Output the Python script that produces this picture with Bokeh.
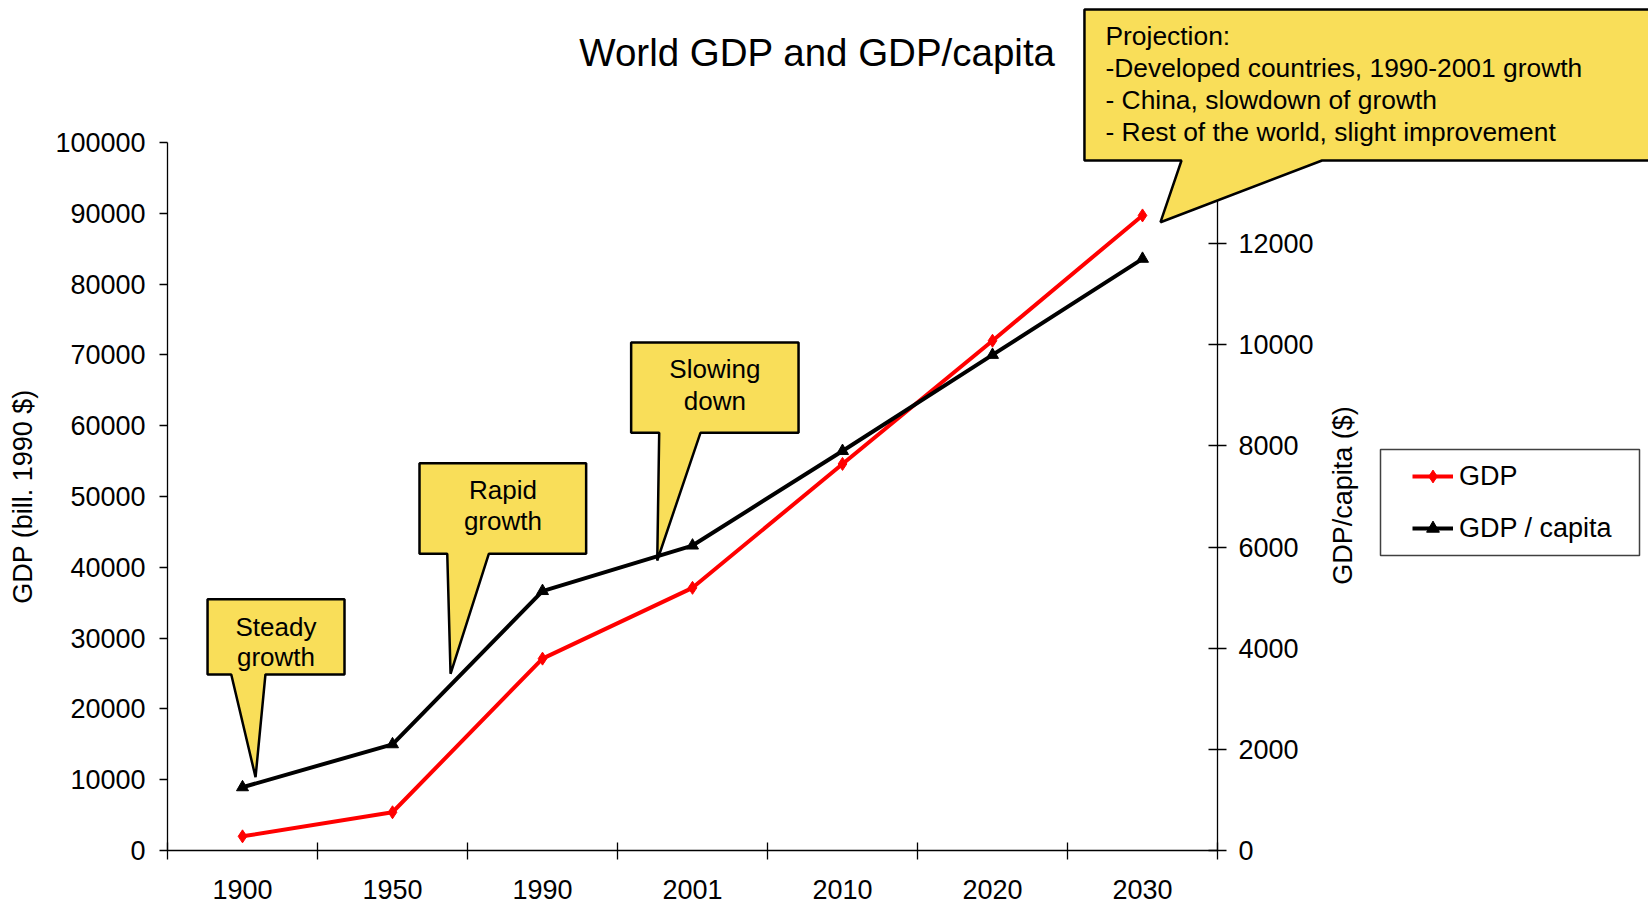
import math

from bokeh.plotting import figure
from bokeh.models import (Range1d, LinearAxis, FixedTicker, BasicTickFormatter,
                          Legend, LegendItem, Label, PolyAnnotation, BoxAnnotation)
from bokeh.embed import file_html
from bokeh.resources import INLINE

# ---- data -------------------------------------------------------------
years = ["1900", "1950", "1990", "2001", "2010", "2020", "2030"]
gdp = [2000, 5400, 27100, 37100, 54600, 72000, 89700]            # bill. 1990 $
gdp_per_capita = [1250, 2100, 5130, 6030, 7900, 9800, 11700]     # 1990 $
gdp_ticks = list(range(0, 100001, 10000))
capita_ticks = list(range(0, 14001, 2000))

# ---- styling ----------------------------------------------------------
FONT = "Liberation Sans"
AXIS_FS = "27px"
NOTE_FS = "26px"
NOTE_FILL = "#F9DE59"
GRID = "#808080"

W, H = 1648, 904
# pixel box occupied by the axes; the canvas around it holds the titles,
# the legend and the projection note, so the frame spans the whole canvas
AREA_L, AREA_R, AREA_T, AREA_B = 167, 1217, 142, 850

n = len(years)
xpos = [i + 0.5 for i in range(n)]       # categories in unit-wide slots
GDP_MAX, CAP_MAX = gdp_ticks[-1], capita_ticks[-1]

ux = n / (AREA_R - AREA_L)
ug = GDP_MAX / (AREA_B - AREA_T)
uc = CAP_MAX / (AREA_B - AREA_T)

p = figure(width=W, height=H,
           x_range=Range1d(-AREA_L * ux, n + (W - AREA_R) * ux),
           y_range=Range1d(-(H - AREA_B) * ug, GDP_MAX + AREA_T * ug),
           output_backend="svg", toolbar_location=None,
           min_border=0, x_axis_type=None, y_axis_type=None)
p.extra_y_ranges = {"capita": Range1d(-(H - AREA_B) * uc, CAP_MAX + AREA_T * uc)}
p.outline_line_color = None
p.background_fill_color = "white"
p.border_fill_color = "white"
p.grid.visible = False


def style_axis(ax):
    ax.axis_line_color = "black"
    ax.axis_line_width = 1.3
    ax.major_tick_line_color = "black"
    ax.major_tick_line_width = 1.3
    ax.minor_tick_line_color = None
    ax.major_label_text_font = FONT
    ax.major_label_text_font_size = AXIS_FS
    ax.major_label_text_color = "black"
    ax.axis_label_text_font = FONT
    ax.axis_label_text_font_size = AXIS_FS
    ax.axis_label_text_font_style = "normal"
    ax.axis_label_text_color = "black"


# ---- x axis: labels at slot centres, tick marks at slot boundaries -----
xa = LinearAxis(fixed_location=0, bounds=(0, n),
                ticker=FixedTicker(ticks=xpos, minor_ticks=list(range(n + 1))))
style_axis(xa)
xa.major_label_overrides = {v: y for v, y in zip(xpos, years)}
xa.major_tick_line_color = None
xa.major_tick_out = 9
xa.major_tick_in = 0
xa.minor_tick_line_color = "black"
xa.minor_tick_line_width = 1.3
xa.minor_tick_in = 8
xa.minor_tick_out = 9
xa.major_label_standoff = 20
p.add_layout(xa, "below")

# ---- left axis (GDP) --------------------------------------------------
ya = LinearAxis(fixed_location=0, bounds=(0, GDP_MAX),
                ticker=FixedTicker(ticks=gdp_ticks),
                formatter=BasicTickFormatter(use_scientific=False))
style_axis(ya)
ya.major_tick_out = 8
ya.major_tick_in = 0
ya.major_label_standoff = 14
ya.axis_label = "GDP (bill. 1990 $)"
ya.axis_label_standoff = 14
p.add_layout(ya, "left")

# ---- right axis (GDP per capita) --------------------------------------
yr = LinearAxis(y_range_name="capita", fixed_location=n, bounds=(0, CAP_MAX),
                ticker=FixedTicker(ticks=capita_ticks),
                formatter=BasicTickFormatter(use_scientific=False))
style_axis(yr)
yr.major_tick_out = 9
yr.major_tick_in = 9
yr.major_label_standoff = 12
p.add_layout(yr, "right")

# horizontal grid on the GDP scale, limited to the axes box
p.ygrid.ticker = FixedTicker(ticks=gdp_ticks)
p.ygrid.bounds = (0, GDP_MAX)
p.ygrid.cross_bounds = (0, n)
p.ygrid.grid_line_color = GRID
p.ygrid.grid_line_width = 1.3
p.ygrid.visible = True

# ---- series -----------------------------------------------------------
r_line = p.line(xpos, gdp, line_color="red", line_width=4)
r_pts = p.scatter(xpos, gdp, marker="diamond", size=13, color="red")
k_line = p.line(xpos, gdp_per_capita, y_range_name="capita",
                line_color="black", line_width=4)
k_pts = p.scatter(xpos, gdp_per_capita, y_range_name="capita",
                  marker="triangle", size=12, color="black")

# ---- legend -----------------------------------------------------------
legend = Legend(items=[LegendItem(label="GDP", renderers=[r_line, r_pts]),
                       LegendItem(label="GDP / capita", renderers=[k_line, k_pts])],
                location=(1412, 360), padding=0, spacing=20, margin=0,
                glyph_width=41, glyph_height=32, label_height=32, label_standoff=6,
                label_text_font=FONT, label_text_font_size=AXIS_FS,
                label_text_color="black",
                border_line_alpha=0, background_fill_alpha=0)
p.add_layout(legend)
p.add_layout(BoxAnnotation(left=1380, right=1639, top=H - 449, bottom=H - 555,
                           left_units="screen", right_units="screen",
                           top_units="screen", bottom_units="screen",
                           fill_color=None, line_color="#404040",
                           line_width=1.5, line_alpha=1))

# ---- titles -----------------------------------------------------------
p.add_layout(Label(x=817, y=H - 52, x_units="screen", y_units="screen",
                   text="World GDP and GDP/capita", text_font=FONT,
                   text_font_size="38.5px", text_align="center",
                   text_baseline="middle", text_color="black"))
p.add_layout(Label(x=1342, y=H - 495, x_units="screen", y_units="screen",
                   text="GDP/capita ($)", angle=math.pi / 2, text_font=FONT,
                   text_font_size=AXIS_FS, text_align="center",
                   text_baseline="middle", text_color="black"))


# ---- speech-bubble notes (box with a pointer hanging from its bottom) --
def callout(left, right, top, bottom, base_l, base_r, tip):
    xs = [left, right, right, base_r, tip[0], base_l, left]
    ys = [top, top, bottom, bottom, tip[1], bottom, bottom]
    p.add_layout(PolyAnnotation(xs=xs, ys=ys, fill_color=NOTE_FILL, fill_alpha=1,
                                line_color="black", line_alpha=1, line_width=2.5))


def note_text(x, y, text, align="center", size=NOTE_FS):
    p.add_layout(Label(x=x, y=y, text=text, text_font=FONT, text_font_size=size,
                       text_align=align, text_baseline="middle",
                       text_color="black"))


callout(0.267, 1.180, 35500, 24860, 0.425, 0.653, (0.587, 10350))
note_text(0.723, 31570, "Steady")
note_text(0.723, 27400, "growth")

callout(1.680, 2.791, 54700, 41910, 1.865, 2.142, (1.887, 24960))
note_text(2.236, 50850, "Rapid")
note_text(2.236, 46470, "growth")

callout(3.091, 4.207, 71750, 59000, 3.278, 3.553, (3.265, 40960))
note_text(3.649, 67980, "Slowing")
note_text(3.649, 63490, "down")

callout(6.113, 9.95, 118790, 97460, 6.760, 7.697, (6.620, 88740))
proj_lines = ["Projection:",
              "-Developed countries, 1990-2001 growth",
              "- China, slowdown of growth",
              "- Rest of the world, slight improvement"]
for line, y in zip(proj_lines, [115110, 110590, 106070, 101550]):
    note_text(6.253, y, line, align="left", size="26.4px")

open("out.html", "w").write(file_html(p, INLINE))
